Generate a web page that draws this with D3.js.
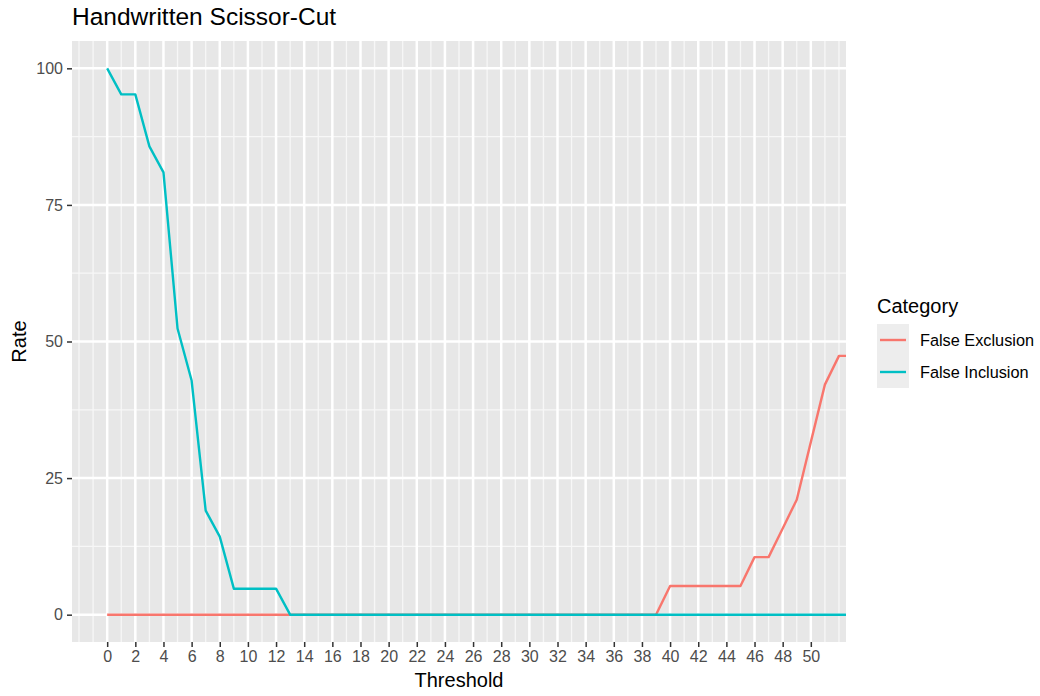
<!DOCTYPE html>
<html>
<head>
<meta charset="utf-8">
<script src="https://cdn.jsdelivr.net/npm/d3@7"></script>
<style>
  html, body { margin: 0; padding: 0; background: #ffffff; }
  svg { display: block; }
  text { font-family: "Liberation Sans", Arial, Helvetica, sans-serif; }
</style>
</head>
<body>
<svg id="chart" width="1040" height="696"></svg>
<script>
// Threshold values on the x axis
const thresholds = [
  0, 1, 2, 3, 4, 5, 6, 7, 8, 9, 10, 11, 12, 13, 14, 15, 16, 17, 18, 19,
  20, 21, 22, 23, 24, 25, 26, 27, 28, 29, 30, 31, 32, 33, 34, 35, 36, 37, 38, 39,
  40, 41, 42, 43, 44, 45, 46, 47, 48, 49, 50, 51, 52, 53
];

// Rates (%) per threshold
const falseExclusion = [
  0, 0, 0, 0, 0, 0, 0, 0, 0, 0, 0, 0, 0, 0, 0, 0, 0, 0, 0, 0,
  0, 0, 0, 0, 0, 0, 0, 0, 0, 0, 0, 0, 0, 0, 0, 0, 0, 0, 0, 0,
  5.26, 5.26, 5.26, 5.26, 5.26, 5.26, 10.53, 10.53, 15.79, 21.05, 31.58, 42.11, 47.37, 47.37
];
const falseInclusion = [
  100, 95.24, 95.24, 85.71, 80.95, 52.38, 42.86, 19.05, 14.29, 4.76, 4.76, 4.76, 4.76, 0, 0, 0, 0, 0, 0, 0,
  0, 0, 0, 0, 0, 0, 0, 0, 0, 0, 0, 0, 0, 0, 0, 0, 0, 0, 0, 0,
  0, 0, 0, 0, 0, 0, 0, 0, 0, 0, 0, 0, 0, 0
];

const categories = ["False Exclusion", "False Inclusion"];
const categoryColors = ["#F8766D", "#00BFC4"];

const xBreaks = [0, 2, 4, 6, 8, 10, 12, 14, 16, 18, 20, 22, 24, 26, 28, 30, 32, 34, 36, 38, 40, 42, 44, 46, 48, 50];
const xMinorBreaks = [-2, -1, 1, 3, 5, 7, 9, 11, 13, 15, 17, 19, 21, 23, 25, 27, 29, 31, 33, 35, 37, 39, 41, 43, 45, 47, 49, 51, 52];
const yBreaks = [0, 25, 50, 75, 100];
const yMinorBreaks = [12.5, 37.5, 62.5, 87.5];

const chartTitle = "Handwritten Scissor-Cut";
const xTitle = "Threshold";
const yTitle = "Rate";
const legendTitle = "Category";

// Layout
const panel = { left: 72, top: 41, right: 846, bottom: 642 };
const svg = d3.select("#chart");

const x = d3.scaleLinear().domain([-2.5, 52.5]).range([panel.left, panel.right]);
const y = d3.scaleLinear().domain([-5, 105]).range([panel.bottom, panel.top]);
const color = d3.scaleOrdinal().domain(categories).range(categoryColors);

// Panel background
svg.append("rect")
  .attr("x", panel.left).attr("y", panel.top)
  .attr("width", panel.right - panel.left)
  .attr("height", panel.bottom - panel.top)
  .attr("fill", "#E7E7E7");

const grid = svg.append("g");
// Minor grid
grid.selectAll("line.xminor").data(xMinorBreaks).join("line")
  .attr("x1", d => x(d)).attr("x2", d => x(d))
  .attr("y1", panel.top).attr("y2", panel.bottom)
  .attr("stroke", "#F7F7F7").attr("stroke-width", 1.3);
grid.selectAll("line.yminor").data(yMinorBreaks).join("line")
  .attr("y1", d => y(d)).attr("y2", d => y(d))
  .attr("x1", panel.left).attr("x2", panel.right)
  .attr("stroke", "#F7F7F7").attr("stroke-width", 1.3);
// Major grid
grid.selectAll("line.xmajor").data(xBreaks).join("line")
  .attr("x1", d => x(d)).attr("x2", d => x(d))
  .attr("y1", panel.top).attr("y2", panel.bottom)
  .attr("stroke", "#ffffff").attr("stroke-width", 2.5);
grid.selectAll("line.ymajor").data(yBreaks).join("line")
  .attr("y1", d => y(d)).attr("y2", d => y(d))
  .attr("x1", panel.left).attr("x2", panel.right)
  .attr("stroke", "#ffffff").attr("stroke-width", 2.5);

// Clip lines to the panel
svg.append("defs").append("clipPath").attr("id", "panel-clip")
  .append("rect")
  .attr("x", panel.left).attr("y", panel.top)
  .attr("width", panel.right - panel.left)
  .attr("height", panel.bottom - panel.top);

const series = [
  { name: categories[0], values: falseExclusion },
  { name: categories[1], values: falseInclusion }
];

const line = d3.line()
  .x((d, i) => x(thresholds[i]))
  .y(d => y(d));

svg.append("g").attr("clip-path", "url(#panel-clip)")
  .selectAll("path").data(series).join("path")
  .attr("d", d => line(d.values))
  .attr("fill", "none")
  .attr("stroke", d => color(d.name))
  .attr("stroke-width", 2.4)
  .attr("stroke-linejoin", "round");

// Axes
const xAxis = svg.append("g")
  .attr("transform", `translate(0,${panel.bottom})`)
  .call(d3.axisBottom(x).tickValues(xBreaks).tickSize(5).tickPadding(4).tickFormat(d3.format("d")));
const yAxis = svg.append("g")
  .attr("transform", `translate(${panel.left},0)`)
  .call(d3.axisLeft(y).tickValues(yBreaks).tickSize(5).tickPadding(4).tickFormat(d3.format("d")));

[xAxis, yAxis].forEach(a => {
  a.select(".domain").remove();
  a.selectAll(".tick line").attr("stroke", "#333333").attr("stroke-width", 1.5);
  a.selectAll(".tick text")
    .attr("fill", "#4D4D4D")
    .style("font-size", "16px")
    .style("font-family", "'Liberation Sans', Arial, Helvetica, sans-serif");
});

// Titles
svg.append("text")
  .attr("x", panel.left).attr("y", 25)
  .attr("fill", "#000000")
  .style("font-size", "24.5px")
  .text(chartTitle);

svg.append("text")
  .attr("x", (panel.left + panel.right) / 2).attr("y", 687)
  .attr("text-anchor", "middle")
  .attr("fill", "#000000")
  .style("font-size", "20px")
  .text(xTitle);

svg.append("text")
  .attr("transform", `translate(26,${(panel.top + panel.bottom) / 2}) rotate(-90)`)
  .attr("text-anchor", "middle")
  .attr("fill", "#000000")
  .style("font-size", "20px")
  .text(yTitle);

// Legend
const legend = svg.append("g").attr("transform", "translate(877,0)");
legend.append("text")
  .attr("x", 0).attr("y", 313)
  .attr("fill", "#000000")
  .style("font-size", "20px")
  .text(legendTitle);

const keySize = 32;
const keyTop = 324;
const keys = legend.selectAll("g.key").data(categories).join("g")
  .attr("transform", (d, i) => `translate(0,${keyTop + i * keySize})`);
keys.append("rect")
  .attr("width", keySize).attr("height", keySize)
  .attr("fill", "#EDEDED");
keys.append("line")
  .attr("x1", 3).attr("x2", keySize - 3)
  .attr("y1", keySize / 2).attr("y2", keySize / 2)
  .attr("stroke", d => color(d))
  .attr("stroke-width", 2.4);
keys.append("text")
  .attr("x", keySize + 11).attr("y", keySize / 2)
  .attr("dy", "0.35em")
  .attr("fill", "#000000")
  .style("font-size", "16.3px")
  .text(d => d);
</script>
</body>
</html>
